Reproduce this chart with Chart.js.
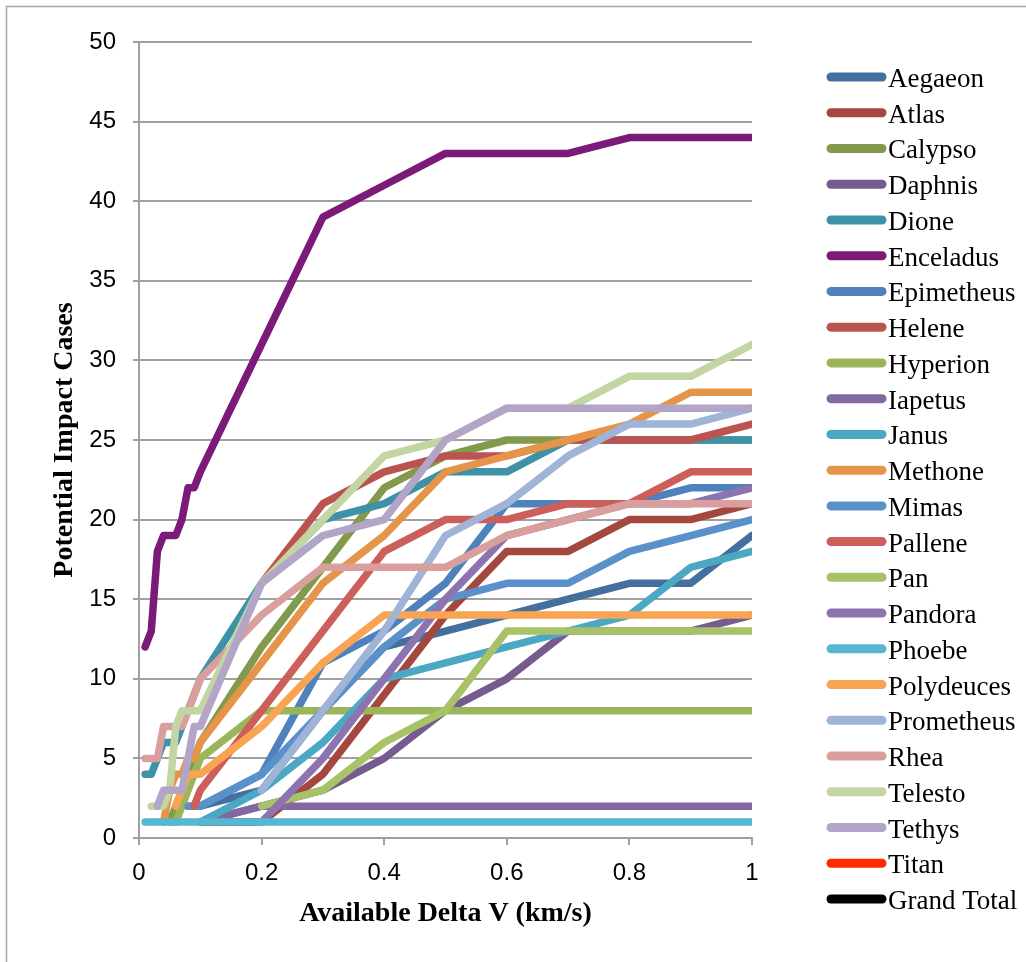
<!DOCTYPE html>
<html>
<head>
<meta charset="utf-8">
<script src="https://cdn.jsdelivr.net/npm/chart.js@4.4.0/dist/chart.umd.min.js"></script>
<style>
  html, body { margin: 0; padding: 0; background: #fff; }
  #wrap { position: relative; width: 1026px; height: 962px; }
</style>
</head>
<body>
<div id="wrap"><canvas id="impact-chart"></canvas></div>
<script>
// delta V steps (km/s) shared by every moon series
var deltaV = [0.01, 0.02, 0.03, 0.04, 0.05, 0.06, 0.07, 0.08, 0.09, 0.1, 0.2, 0.3, 0.4, 0.5, 0.6, 0.7, 0.8, 0.9, 1];
var xTicks = [0, 0.2, 0.4, 0.6, 0.8, 1];
var yTicks = [0, 5, 10, 15, 20, 25, 30, 35, 40, 45, 50];

var moons = ["Aegaeon", "Atlas", "Calypso", "Daphnis", "Dione", "Enceladus", "Epimetheus", "Helene",
  "Hyperion", "Iapetus", "Janus", "Methone", "Mimas", "Pallene", "Pan", "Pandora", "Phoebe",
  "Polydeuces", "Prometheus", "Rhea", "Telesto", "Tethys", "Titan", "Grand Total"];

var _ = null;
var aegaeon    = [_, _, _, _, _, _, _, 2, 2, 2, 3, 8, 12, 13, 14, 15, 16, 16, 19];
var atlas      = [_, _, _, _, _, _, _, _, _, 1, 1, 4, 9, 14, 18, 18, 20, 20, 21];
var calypso    = [_, _, _, _, 1, 2, 3, 4, 5, 6, 12, 17, 22, 24, 25, 25, 25, 25, 25];
var daphnis    = [_, _, _, _, _, _, _, _, _, 1, 2, 3, 5, 8, 10, 13, 13, 13, 14];
var dione      = [4, 4, 5, 6, 6, 6, 7, 8, 9, 10, 16, 20, 21, 23, 23, 25, 25, 25, 25];
var enceladus  = [12, 13, 18, 19, 19, 19, 20, 22, 22, 23, 31, 39, 41, 43, 43, 43, 44, 44, 44];
var epimetheus = [_, _, _, _, _, _, _, _, _, 2, 4, 11, 13, 16, 21, 21, 21, 22, 22];
var helene     = [_, _, _, _, _, _, _, _, _, _, 16, 21, 23, 24, 24, 25, 25, 25, 26];
var hyperion   = [_, _, _, _, _, 1, 2, 3, 4, 5, 8, 8, 8, 8, 8, 8, 8, 8, 8];
var iapetus    = [_, _, _, _, _, _, _, _, _, 1, 2, 2, 2, 2, 2, 2, 2, 2, 2];
var janus      = [_, _, _, _, _, _, _, _, _, 1, 3, 6, 10, 11, 12, 13, 14, 17, 18];
var methone    = [_, _, _, 1, 3, 4, 4, 5, 5, 6, 11, 16, 19, 23, 24, 25, 26, 28, 28];
var mimas      = [_, _, _, _, _, _, _, 2, 2, 2, 4, 8, 12, 15, 16, 16, 18, 19, 20];
var pallene    = [_, _, _, _, _, _, _, _, 2, 3, 8, 13, 18, 20, 20, 21, 21, 23, 23];
var pan        = [_, _, _, _, _, _, _, _, _, _, 2, 3, 6, 8, 13, 13, 13, 13, 13];
var pandora    = [_, _, _, _, _, _, _, _, _, _, 1, 5, 10, 15, 19, 20, 21, 21, 22];
var phoebe     = [1, 1, 1, 1, 1, 1, 1, 1, 1, 1, 1, 1, 1, 1, 1, 1, 1, 1, 1];
var polydeuces = [_, _, _, _, _, 2, 3, 4, 4, 4, 7, 11, 14, 14, 14, 14, 14, 14, 14];
var prometheus = [_, _, _, _, _, _, _, _, _, _, 3, 8, 13, 19, 21, 24, 26, 26, 27];
var rhea       = [5, 5, 5, 7, 7, 7, 7, 8, 9, 10, 14, 17, 17, 17, 19, 20, 21, 21, 21];
var telesto    = [_, 2, 2, 2, 3, 7, 8, 8, 8, 8, 16, 20, 24, 25, 27, 27, 29, 29, 31];
var tethys     = [_, _, 2, 3, 3, 3, 3, 5, 7, 7, 16, 19, 20, 25, 27, 27, 27, 27, 27];
var titan      = [];
var grandTotal = [];

var series = [aegaeon, atlas, calypso, daphnis, dione, enceladus, epimetheus, helene, hyperion,
  iapetus, janus, methone, mimas, pallene, pan, pandora, phoebe, polydeuces, prometheus, rhea,
  telesto, tethys, titan, grandTotal];

var colors = ["#44709f", "#a3473f", "#829a4b", "#765b8e", "#3e91a7", "#7b1a78", "#4f81bd", "#bb5450",
  "#9bb55b", "#8267a1", "#4aa8c2", "#e4954a", "#5a91ca", "#cc5f5a", "#a8c268", "#8d74b1", "#55b7d0",
  "#f8a452", "#9fb4d7", "#d99f9d", "#c3d5a2", "#b2a5c8", "#ff2a00", "#000000"];

function toPoints(values) {
  var pts = [];
  values.forEach(function (v, i) {
    if (v !== null) pts.push({ x: deltaV[i], y: v });
  });
  return pts;
}

var datasets = moons.map(function (name, i) {
  return {
    label: name,
    data: toPoints(series[i]),
    borderColor: colors[i],
    backgroundColor: colors[i],
    borderWidth: 7.5,
    borderCapStyle: "round",
    borderJoinStyle: "round",
    pointRadius: 0,
    tension: 0,
    fill: false,
    order: moons.length - i // later series sit on top
  };
});

// frame line and the legend column down the right side
var chartFrame = {
  id: "chartFrame",
  beforeDraw: function (chart) {
    var ctx = chart.ctx;
    ctx.save();
    ctx.strokeStyle = "#a6a6a6";
    ctx.lineWidth = 1.5;
    ctx.beginPath();
    ctx.moveTo(6.5, 962);
    ctx.lineTo(6.5, 6.5);
    ctx.lineTo(1026, 6.5);
    ctx.stroke();
    ctx.restore();
  },
  afterDraw: function (chart) {
    var ctx = chart.ctx;
    ctx.save();
    chart.data.datasets.forEach(function (ds, i) {
      var y = 77 + i * 35.74;
      ctx.strokeStyle = ds.borderColor;
      ctx.lineWidth = 9;
      ctx.lineCap = "round";
      ctx.beginPath();
      ctx.moveTo(831, y);
      ctx.lineTo(882, y);
      ctx.stroke();
      ctx.fillStyle = "#000";
      ctx.font = '27px "Liberation Serif"';
      ctx.textBaseline = "alphabetic";
      ctx.fillText(ds.label, 888, y + 10);
    });
    ctx.restore();
  }
};

var ctx = document.getElementById("impact-chart").getContext("2d");
var chart = new Chart(ctx, {
  type: "line",
  data: { datasets: datasets },
  options: {
    responsive: true,
    maintainAspectRatio: false,
    animation: false,
    layout: { padding: { left: 0, top: 42, right: 274, bottom: 0 } },
    plugins: {
      legend: { display: false },
      tooltip: { enabled: false }
    },
    scales: {
      x: {
        type: "linear",
        min: 0,
        max: 1,
        afterFit: function (scale) { scale.height = 124; },
        afterBuildTicks: function (scale) {
          scale.ticks = xTicks.map(function (v) { return { value: v }; });
        },
        ticks: {
          color: "#000",
          font: { family: "Liberation Sans", size: 24 },
          padding: 14,
          maxRotation: 0,
          callback: function (v) { return String(v); }
        },
        grid: { drawOnChartArea: false, color: "#a0a0a0", lineWidth: 2, tickLength: 7 },
        border: { color: "#a0a0a0", width: 2 },
        title: {
          display: true,
          text: "Available Delta V (km/s)",
          color: "#000",
          font: { family: "Liberation Serif", size: 28, weight: "bold" },
          padding: { top: 0, bottom: 31 }
        }
      },
      y: {
        min: 0,
        max: 50,
        afterFit: function (scale) { scale.width = 139; },
        afterBuildTicks: function (scale) {
          scale.ticks = yTicks.map(function (v) { return { value: v }; });
        },
        ticks: {
          color: "#000",
          font: { family: "Liberation Sans", size: 24 },
          padding: 17
        },
        grid: { color: "#a0a0a0", lineWidth: 2, tickLength: 6 },
        border: { color: "#a0a0a0", width: 2 },
        title: {
          display: true,
          text: "Potential Impact Cases",
          color: "#000",
          font: { family: "Liberation Serif", size: 28, weight: "bold" },
          padding: { top: 48, bottom: 0 }
        }
      }
    }
  },
  plugins: [chartFrame]
});
</script>
</body>
</html>
